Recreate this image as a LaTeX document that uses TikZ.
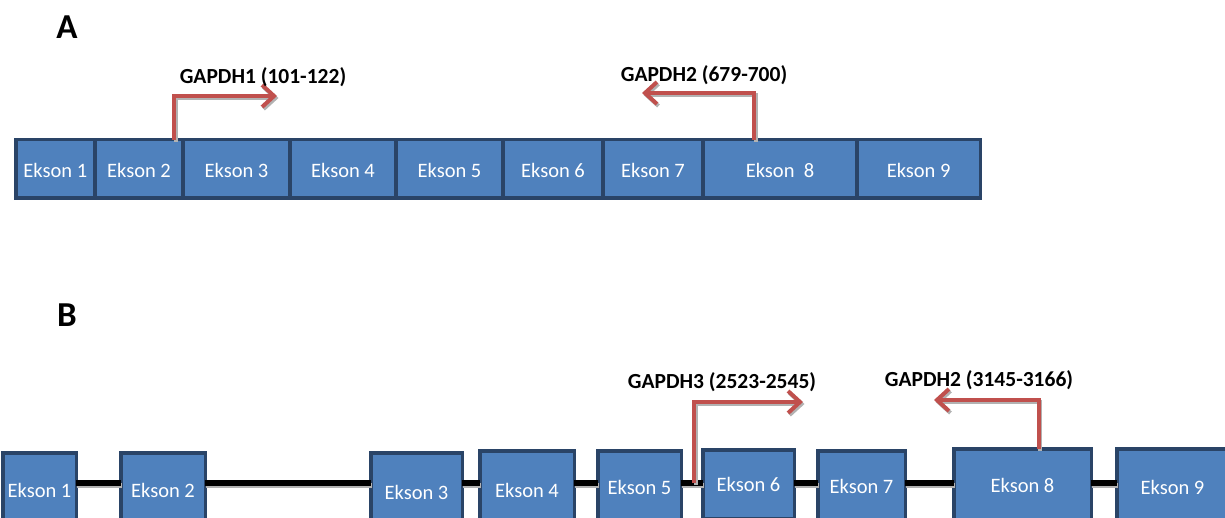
\documentclass[tikz,border=0pt]{standalone}
\usepackage{fontspec}
\setmainfont{Carlito}
\usepackage{xcolor}
\usepackage{tikz}
\usetikzlibrary{arrows.meta,calc,positioning}
\definecolor{exonblue}{HTML}{4F81BD}
\definecolor{exonborder}{HTML}{2A4467}
\definecolor{primerred}{HTML}{C0504D}
\tikzset{
  exon/.style={draw=exonborder,fill=exonblue,line width=3.5pt,inner sep=0pt,outer sep=0pt,
    text=white,font=\fontsize{20.5}{24}\selectfont},
  intron/.style={line width=5.5pt,draw=black},
  intronshadow/.style={line width=5.5pt,draw=black!30,transform canvas={shift={(1pt,-2.5pt)}}},
  primer/.style={-{Straight Barb[length=12pt,width=22pt]},line width=4pt,draw=primerred},
  primershadow/.style={-{Straight Barb[length=12pt,width=22pt]},line width=4pt,draw=black!30,
    transform canvas={shift={(1.5pt,-2pt)}}},
  primerlabel/.style={font=\bfseries\fontsize{21.5}{25}\selectfont},
  panel/.style={font=\bfseries\fontsize{35}{40}\selectfont}
}

\begin{document}
\begin{tikzpicture}[x=1pt,y=1pt]
  \useasboundingbox (0,0) rectangle (1225,517);
  \clip (0,0) rectangle (1225,517);
  \node[panel] (panA) at (67,489.5) {A};
  \node[panel] (panB) at (67,202) {B};
  % A: mRNA, exons side by side
  \foreach \i/\l/\r/\txt in {1/15.75/95/Ekson 1,2/95/183/Ekson 2,3/183/290/Ekson 3,
      4/290/396/Ekson 4,5/396/503/Ekson 5,6/503/603/Ekson 6,7/603/703/Ekson 7,
      8/703/857/Ekson\ \ 8,9/857/980.25/Ekson 9}{
    \pgfmathsetmacro\w{\r-\l}
    \node[exon,minimum width=\w pt,minimum height=58.5pt,text height=17pt,text depth=0pt]
      (a\i) at ({(\l+\r)/2},348) {\txt};
  }
  % B: gene, exons joined by introns
  \foreach \i/\l/\r/\t/\c in {1/1/78/451/490,2/119/207/451/490,3/369/464/451/492,
      4/478/576/449/490,5/596/683/449/487,6/701/796/448/484,7/816/907/449/486,
      8/952/1093/447/485,9/1115/1230/447/487}{
    \pgfmathsetmacro\w{\r-\l-3.5}
    \pgfmathsetmacro\h{2*(\c-\t-1.75)}
    \node[exon,minimum width=\w pt,minimum height=\h pt] (b\i) at ({(\l+\r)/2},{517-\c}) {Ekson \i};
  }
  \coordinate (intron) at (0,34);
  \foreach \a/\b in {1/2,2/3,3/4,4/5,5/6,6/7,7/8,8/9}{
    \draw[intronshadow] (b\a.east |- intron) -- (b\b.west |- intron);
    \draw[intron] (b\a.east |- intron) -- (b\b.west |- intron);
  }
  % primers
  \coordinate (tip1) at (277,421);
  \coordinate (tip2) at (642,424);
  \coordinate (tip3) at (803,115);
  \coordinate (tip4) at (934,117);
  \coordinate (start3) at ($(b5.east |- intron)!0.6!(b6.west |- intron)$);
  \draw[primershadow] ([xshift=-9pt]a2.north east) |- (tip1);
  \draw[primer] ([xshift=-9pt]a2.north east) |- (tip1);
  \draw[primershadow] ([xshift=-26pt]a8.north) |- (tip2);
  \draw[primer] ([xshift=-26pt]a8.north) |- (tip2);
  \draw[primershadow] (start3) |- (tip3);
  \draw[primer] (start3) |- (tip3);
  \draw[primershadow] ([xshift=16pt]b8.north) |- (tip4);
  \draw[primer] ([xshift=16pt]b8.north) |- (tip4);
  \node[primerlabel] (lab1) at (263,440) {GAPDH1 (101-122)};
  \node[primerlabel] (lab2) at (704,442) {GAPDH2 (679-700)};
  \node[primerlabel] (lab3) at (722,135) {GAPDH3 (2523-2545)};
  \node[primerlabel] (lab4) at (979,137) {GAPDH2 (3145-3166)};
\end{tikzpicture}
\end{document}
